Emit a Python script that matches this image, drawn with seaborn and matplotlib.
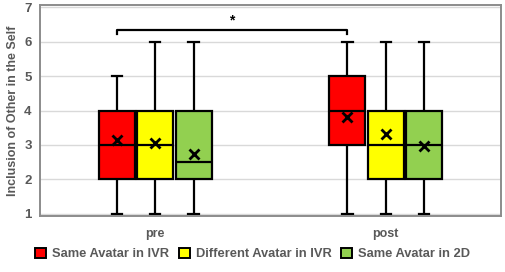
import pandas as pd
import matplotlib
matplotlib.use("Agg")
import matplotlib.pyplot as plt
import seaborn as sns

# IOS ratings (1-7) per condition and time, 22 participants each
conditions = ['Same Avatar in IVR', 'Different Avatar in IVR', 'Same Avatar in 2D']
times = ['pre', 'post']
colors = ['#FF0000', '#FFFF00', '#92D050']

pre_same_ivr = [1, 2, 2, 2, 2, 2, 2, 2, 3, 3, 3, 3, 3, 4, 4, 4, 4, 4, 4, 5, 5, 5]
pre_diff_ivr = [1, 1, 2, 2, 2, 2, 2, 2, 3, 3, 3, 3, 3, 3, 4, 4, 4, 4, 4, 4, 5, 6]
pre_same_2d = [1, 1, 1, 1, 2, 2, 2, 2, 2, 2, 2, 3, 3, 3, 3, 4, 4, 4, 4, 4, 4, 6]
post_same_ivr = [1, 2, 3, 3, 3, 3, 3, 3, 3, 3, 4, 4, 4, 4, 4, 5, 5, 5, 5, 5, 6, 6]
post_diff_ivr = [1, 2, 2, 2, 2, 2, 2, 3, 3, 3, 3, 3, 3, 3, 4, 4, 4, 5, 5, 5, 6, 6]
post_same_2d = [1, 1, 1, 1, 2, 2, 2, 3, 3, 3, 3, 3, 3, 3, 4, 4, 4, 4, 4, 4, 4, 6]

groups = {
    ('pre', conditions[0]): pre_same_ivr,
    ('pre', conditions[1]): pre_diff_ivr,
    ('pre', conditions[2]): pre_same_2d,
    ('post', conditions[0]): post_same_ivr,
    ('post', conditions[1]): post_diff_ivr,
    ('post', conditions[2]): post_same_2d,
}
rows = []
for (t, c), vals in groups.items():
    for v in vals:
        rows.append({'time': t, 'condition': c, 'IOS': v})
df = pd.DataFrame(rows)

plt.rcParams['font.family'] = ['Liberation Sans', 'DejaVu Sans']
plt.rcParams['font.weight'] = 'bold'
text_gray = '#595959'

fig = plt.figure(figsize=(5.05, 2.72), dpi=100)
ax = fig.add_axes([40 / 505, 56 / 272, 461 / 505, 211 / 272])

box_width = 0.5
sns.boxplot(data=df, x='time', y='IOS', hue='condition', order=times,
            hue_order=conditions, palette=colors, saturation=1,
            width=box_width, gap=0.07,
            linecolor='black', linewidth=1.6, whis=1.5, showfliers=False,
            showmeans=True,
            meanprops={'marker': 'x', 'markeredgecolor': 'black',
                       'markersize': 7, 'markeredgewidth': 2},
            ax=ax)

# narrow the whisker caps
cap_w = 0.045
for cont in ax.containers:
    for cap in cont.caps:
        xs = cap.get_xdata()
        mid = (xs[0] + xs[1]) / 2
        cap.set_xdata([mid - cap_w / 2, mid + cap_w / 2])

ax.set_ylim(0.93, 7.07)
ax.set_xlim(-0.5, 1.5)
ax.set_yticks(range(1, 8))
ax.yaxis.grid(True, color='#D9D9D9', linewidth=1)
ax.set_axisbelow(True)
for s in ax.spines.values():
    s.set_visible(True)
    s.set_color('#8C8C8C')
    s.set_linewidth(1.4)
    s.set_zorder(5)

ax.tick_params(axis='both', length=0, labelcolor=text_gray)
ax.tick_params(axis='y', pad=6, labelsize=9.5)
ax.tick_params(axis='x', pad=9, labelsize=9)
ax.set_xlabel('')
ax.set_ylabel('Inclusion of Other in the Self', fontsize=9, color=text_gray,
              fontweight='bold', labelpad=4)

# significance bracket between pre and post for the same avatar in IVR
slot = box_width / len(conditions)
x_pre = 0 - slot
x_post = 1 - slot
ax.plot([x_pre, x_pre, x_post, x_post], [6.22, 6.34, 6.34, 6.22],
        color='black', linewidth=1.6, clip_on=False)
ax.text((x_pre + x_post) / 2, 6.42, '*', ha='center', va='bottom',
        fontsize=10, fontweight='bold', color='black')

handles, labels = ax.get_legend_handles_labels()
for h in handles:
    h.set_edgecolor('black')
    h.set_linewidth(1.4)
ax.legend(handles, labels, loc='center', bbox_to_anchor=(0.5, 18 / 272),
          bbox_transform=fig.transFigure, ncol=3, frameon=False,
          fontsize=9.3, labelcolor=text_gray, handlelength=0.85,
          handleheight=0.85, handletextpad=0.45, columnspacing=0.75)

fig.savefig('out.png', dpi=100)
